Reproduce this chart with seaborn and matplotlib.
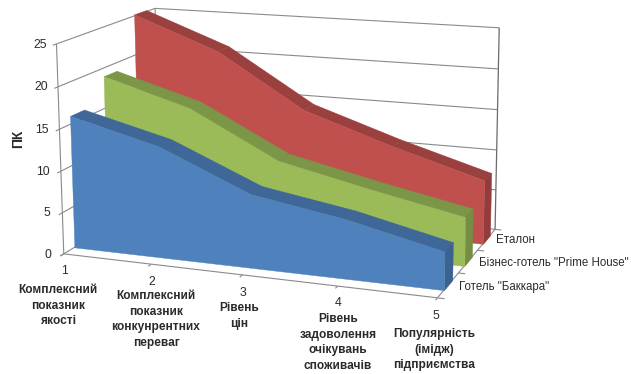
import numpy as np
import matplotlib
matplotlib.use("Agg")
import matplotlib.pyplot as plt
import seaborn as sns
from mpl_toolkits.mplot3d.art3d import Poly3DCollection, Line3DCollection

# Criteria along the horizontal axis
criteria = [1, 2, 3, 4, 5]
criteria_labels = [
    "Комплексний\nпоказник\nякості",
    "Комплексний\nпоказник\nконкунрентних\nпереваг",
    "Рівень\nцін",
    "Рівень\nзадоволення\nочікувань\nспоживачів",
    "Популярність\n(імідж)\nпідприємства",
]

# Series, front to back
series_names = ['Готель "Баккара"', 'Бізнес-готель "Prime House"', "Еталон"]
bakkara = [16.0, 13.3, 8.7, 6.9, 4.4]
prime_house = [19.0, 15.9, 10.4, 8.0, 5.8]
etalon = [25.2, 21.2, 14.6, 11.0, 7.8]
series_values = [bakkara, prime_house, etalon]
value_ticks = [0, 5, 10, 15, 20, 25]

W_PX, H_PX = 631, 374
X0, X1 = criteria[0], criteria[-1]
S1 = len(series_names)
Z1 = value_ticks[-1]

sns.set_theme(style="white")
plt.rcParams["font.family"] = ["Liberation Sans", "DejaVu Sans"]
palette = sns.color_palette(["#4F81BD", "#9BBB59", "#C0504D"])

fig = plt.figure(figsize=(W_PX / 100, H_PX / 100), dpi=100, facecolor="white")
# A square axes as wide as the figure, so view units scale evenly to pixels
ax = fig.add_axes([0, (H_PX - W_PX) / 2 / H_PX, 1, W_PX / H_PX], projection="3d")
ax.set_axis_off()
ax.computed_zorder = False


def camera_matrix():
    """Fit the chart's perspective camera to where its box corners should land."""
    anchors = [
        ((X0, 0, 0), (64, 254)), ((X0, 0, Z1), (57, 44)),
        ((X1, 0, 0), (438, 298)), ((X1, S1, 0), (495, 229)),
        ((X1, S1, Z1), (499, 28)), ((X0, S1, Z1), (155, 7)),
        ((2, 0, 0), (152, 264)), ((3, 0, 0), (242, 275)), ((4, 0, 0), (337, 286)),
        ((X1, S1, 10), (497, 150)), ((X0, 0, 10), (60, 171)), ((X0, S1, 20), (156, 48)),
    ]
    A, b = [], []
    for (x, s, z), (px, py) in anchors:
        A.append([x, s, z, 1, 0, 0, 0, 0, -px * x, -px * s, -px * z])
        b.append(px)
        A.append([0, 0, 0, 0, x, s, z, 1, -py * x, -py * s, -py * z])
        b.append(py)
    m = np.linalg.lstsq(np.array(A, float), np.array(b, float), rcond=None)[0]
    top, mid, w = m[:4], m[4:8], np.r_[m[8:11], 1.0]
    vl = ax.viewLim
    ku = (vl.x1 - vl.x0) / W_PX
    kv = (vl.y1 - vl.y0) / W_PX
    u = vl.x0 * w + ku * top
    # Image rows grow downwards; the square axes overhangs the figure evenly
    v = vl.y0 * w + kv * ((W_PX + H_PX) / 2 * w - mid)
    depth = np.array([0.01, 0.1, 0.001, 0.0])
    return np.vstack([u, v, depth, w])


camera = camera_matrix()
ax.get_proj = lambda: camera

GRID = "#8a8a8a"

# Walls: value gridlines on the left and back planes, then the box edges and ticks
rules = []
for v in value_ticks:
    rules.append([(X0, 0, v), (X0, S1, v)])
    rules.append([(X0, S1, v), (X1, S1, v)])
    rules.append([(X0, 0, v), (X0, -0.1, v)])
rules.append([(X0, 0, 0), (X0, 0, Z1)])
rules.append([(X0, S1, 0), (X0, S1, Z1)])
rules.append([(X0, 0, 0), (X1, 0, 0)])
rules.append([(X1, 0, 0), (X1, S1, 0)])
for c in criteria:
    rules.append([(c, 0, 0), (c, -0.09, 0)])
for s in range(S1 + 1):
    rules.append([(X1, s, 0), (X1 + 0.07, s, 0)])
walls = Line3DCollection(rules, colors=GRID, linewidths=0.8)
walls.set_zorder(1)
ax.add_collection3d(walls)
edge = Line3DCollection([[(X1, S1, 0), (X1, S1, Z1)]], colors="#6a6a6a", linewidths=0.9)
edge.set_zorder(1)
ax.add_collection3d(edge)

# Ribbons, painted from the back series to the front one
RIBBON_LOW, RIBBON_HIGH = 0.3, 0.7
z_order = 2
for idx in reversed(range(S1)):
    vals = series_values[idx]
    front, back = idx + RIBBON_LOW, idx + RIBBON_HIGH
    colour = np.array(palette[idx])
    faces = []
    for a in range(len(criteria) - 1):
        xa, xb = criteria[a], criteria[a + 1]
        faces.append(([(xa, front, vals[a]), (xb, front, vals[a + 1]),
                       (xb, back, vals[a + 1]), (xa, back, vals[a])], colour * 0.8))
    faces.append(([(X1, front, 0), (X1, back, 0), (X1, back, vals[-1]), (X1, front, vals[-1])],
                  colour * 0.76))
    outline = [(c, front, v) for c, v in zip(criteria, vals)]
    faces.append(([(X0, front, 0)] + outline + [(X1, front, 0)], colour))
    for verts, fc in faces:
        poly = Poly3DCollection([verts], facecolors=[fc], edgecolors=[fc], linewidths=0.3)
        poly.set_zorder(z_order)
        z_order += 1
        ax.add_collection3d(poly)


def label(px, py, text, **kw):
    fig.text(px / W_PX, 1 - py / H_PX, text, **kw)


INK = "#2b2b2b"
for v, (px, py) in zip(value_ticks, [(51, 255), (50, 213), (50, 172), (49, 130), (48, 87), (47, 45)]):
    label(px, py, str(v), ha="right", va="center", fontsize=8.8, color=INK)
label(18, 139, "ПК", rotation=90, ha="center", va="center", fontsize=10, fontweight="bold", color=INK)

tick_spots = [(65, 271), (152, 282), (243, 293), (338, 303), (436, 316)]
for c, (px, py) in zip(criteria, tick_spots):
    label(px, py, str(c), ha="center", va="center", fontsize=8.8, color=INK)

block_spots = [(58, 284), (156, 290), (239, 302), (338, 313), (434, 328)]
for text, (px, py) in zip(criteria_labels, block_spots):
    label(px, py, text, ha="center", va="top", fontsize=8.6, fontweight="bold", color=INK, linespacing=1.4)

for name, (px, py) in zip(series_names, [(459, 287), (479, 263), (496, 240)]):
    label(px, py, name, ha="left", va="center", fontsize=8.3, color=INK)

fig.savefig("out.png", dpi=100, facecolor="white")
